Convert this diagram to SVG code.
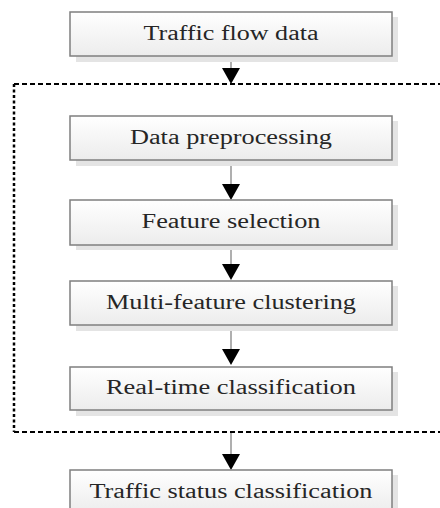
<svg xmlns="http://www.w3.org/2000/svg" width="440" height="508" viewBox="0 0 440 508">
  <style>
    .box { fill: url(#boxFill); stroke: #7f7f7f; stroke-width: 1.5; }
    .shadow { fill: #e4e4e4; }
    .label { font-family: "Liberation Serif", "Times New Roman", serif; font-size: 20px; font-weight: normal; fill: #262626; text-anchor: middle; }
    .link { stroke: #7a7a7a; stroke-width: 1.2; fill: none; }
    .head { fill: #000; }
    .frame-h { stroke: #000; stroke-width: 2; fill: none; stroke-dasharray: 5 3; }
    .frame-v { stroke: #000; stroke-width: 2.5; fill: none; stroke-dasharray: 3 2.5; }
  </style>
  <defs>
    <linearGradient id="boxFill" x1="0" y1="0" x2="0" y2="1">
      <stop offset="0" stop-color="#ffffff"/>
      <stop offset="1" stop-color="#ececec"/>
    </linearGradient>
  </defs>
  <rect width="440" height="508" fill="#ffffff"/>

  <!-- processing frame -->
  <g id="frame">
    <line class="frame-h" x1="14" y1="84" x2="445" y2="84"/>
    <line class="frame-h" x1="14" y1="432" x2="445" y2="432"/>
    <line class="frame-v" x1="14" y1="84" x2="14" y2="432"/>
  </g>

  <!-- connectors -->
  <g id="connectors">
    <line class="link" x1="231" y1="57" x2="231" y2="70"/>
    <polygon class="head" points="222,68 240,68 231,84"/>
    <line class="link" x1="231" y1="161" x2="231" y2="186"/>
    <polygon class="head" points="222,184 240,184 231,200"/>
    <line class="link" x1="231" y1="246" x2="231" y2="266"/>
    <polygon class="head" points="222,264 240,264 231,280"/>
    <line class="link" x1="231" y1="326" x2="231" y2="351"/>
    <polygon class="head" points="222,349 240,349 231,365"/>
    <line class="link" x1="231" y1="433" x2="231" y2="456"/>
    <polygon class="head" points="222,454 240,454 231,470"/>
  </g>

  <g id="traffic-flow-data">
    <rect class="shadow" x="76" y="17" width="322" height="45"/>
    <rect class="box" x="70" y="12" width="322" height="44"/>
    <text class="label" x="231" y="40" textLength="175" lengthAdjust="spacingAndGlyphs">Traffic flow data</text>
  </g>

  <g id="data-preprocessing">
    <rect class="shadow" x="76" y="121" width="322" height="45"/>
    <rect class="box" x="70" y="116" width="322" height="44"/>
    <text class="label" x="231" y="144" textLength="202" lengthAdjust="spacingAndGlyphs">Data preprocessing</text>
  </g>

  <g id="feature-selection">
    <rect class="shadow" x="76" y="205" width="322" height="45"/>
    <rect class="box" x="70" y="200" width="322" height="45"/>
    <text class="label" x="231" y="228" textLength="179" lengthAdjust="spacingAndGlyphs">Feature selection</text>
  </g>

  <g id="multi-feature-clustering">
    <rect class="shadow" x="76" y="286" width="322" height="45"/>
    <rect class="box" x="70" y="281" width="322" height="44"/>
    <text class="label" x="231" y="309" textLength="250" lengthAdjust="spacingAndGlyphs">Multi-feature clustering</text>
  </g>

  <g id="real-time-classification">
    <rect class="shadow" x="76" y="372" width="322" height="44"/>
    <rect class="box" x="70" y="367" width="322" height="43"/>
    <text class="label" x="231" y="394" textLength="250" lengthAdjust="spacingAndGlyphs">Real-time classification</text>
  </g>

  <g id="traffic-status-classification">
    <rect class="shadow" x="76" y="475" width="322" height="45"/>
    <rect class="box" x="70" y="470" width="322" height="44"/>
    <text class="label" x="231" y="498" textLength="283" lengthAdjust="spacingAndGlyphs">Traffic status classification</text>
  </g>
</svg>
